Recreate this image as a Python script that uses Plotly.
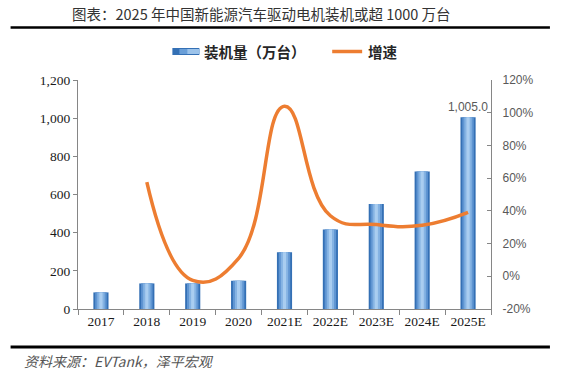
import plotly.graph_objects as go

# ---- data ----
years = ["2017", "2018", "2019", "2020", "2021E", "2022E", "2023E", "2024E", "2025E"]
installs = [87, 134, 134, 148, 298, 417, 550, 721, 1005.0]          # 万台
growth_years = ["2018", "2019", "2020", "2021E", "2022E", "2023E", "2024E", "2025E"]
growth = [57.5, -2.5, 11.0, 104.0, 37.0, 31.6, 31.2, 39.1]          # %

left_ticks = [0, 200, 400, 600, 800, 1000, 1200]
right_ticks = [-20, 0, 20, 40, 60, 80, 100, 120]

title_text = "图表：2025 年中国新能源汽车驱动电机装机或超 1000 万台"
source_text = "资料来源：EVTank，泽平宏观"
bar_name = "装机量（万台）"
line_name = "增速"

# ---- layout geometry (screen pixels; body margin removed via post_script) ----
W, H = 561, 378
PL, PR, PT, PB = 77.5, 491, 80, 309          # plot area in screen px
L = PL
T = PT
R = W - PR
B = H - PB
PW = PR - PL
PH = PB - PT


def px(x):
    return (x - PL) / PW


def py(y):
    return (PB - y) / PH


CJK = "Noto Sans CJK SC"
SERIF = "Liberation Serif"
SANS = "Liberation Sans"
BLUE_LAYERS = [(0.33, "#3470b5"), (0.25, "#5f95d2"), (0.16, "#85b3e3"), (0.07, "#a9cdf0")]
ORANGE = "#ed7d31"

fig = go.Figure()

labels = [f"{v:,.1f}" if i == len(installs) - 1 else "" for i, v in enumerate(installs)]
for k, (w, c) in enumerate(BLUE_LAYERS):
    fig.add_trace(go.Bar(
        x=years, y=installs, width=w, marker=dict(color=c, line=dict(width=0)),
        name=bar_name, showlegend=False, hoverinfo="skip" if k else None,
        text=labels if k == 0 else None, textposition="outside" if k == 0 else None,
        constraintext="none",
        textfont=dict(family=SANS, size=12, color="#595959"), cliponaxis=False,
    ))

fig.add_trace(go.Scatter(
    x=growth_years, y=growth, yaxis="y2", mode="lines", name=line_name,
    line=dict(color=ORANGE, width=3.5, shape="spline", smoothing=1.3),
    showlegend=False,
))

shapes = []
annotations = []

# title + rules
annotations.append(dict(text=title_text, x=px(261), y=py(13), xref="paper", yref="paper",
                        showarrow=False, xanchor="center", yanchor="middle",
                        font=dict(family=CJK, size=14.5, color="#333333")))
shapes.append(dict(type="line", xref="paper", yref="paper", x0=px(10), x1=px(550),
                   y0=py(27.5), y1=py(27.5), line=dict(color="#000000", width=2.5)))
shapes.append(dict(type="line", xref="paper", yref="paper", x0=px(10), x1=px(550),
                   y0=py(347), y1=py(347), line=dict(color="#000000", width=3)))
annotations.append(dict(text=source_text, x=px(21), y=py(361), xref="paper", yref="paper",
                        showarrow=False, xanchor="left", yanchor="middle",
                        font=dict(family=CJK, size=14, color="#555555", style="italic")))

# legend (manual)
lx0, lx1, ly0, ly1 = 172, 199, 48, 55
shapes.append(dict(type="rect", xref="paper", yref="paper", x0=px(lx0), x1=px(lx1),
                   y0=py(ly1), y1=py(ly0), line=dict(width=0), fillcolor="#3470b5"))
shapes.append(dict(type="rect", xref="paper", yref="paper", x0=px(lx0 + 7), x1=px(lx1),
                   y0=py(ly1 - 1), y1=py(ly0 + 1), line=dict(width=0), fillcolor="#6a9fd8"))
shapes.append(dict(type="rect", xref="paper", yref="paper", x0=px(lx0 + 15), x1=px(lx1),
                   y0=py(ly1 - 1), y1=py(ly0 + 1), line=dict(width=0), fillcolor="#9cc3ea"))
annotations.append(dict(text="<b>" + bar_name + "</b>", x=px(202), y=py(51.5), xref="paper",
                        yref="paper", showarrow=False, xanchor="left", yanchor="middle",
                        font=dict(family=CJK, size=14.5, color="#262626")))
shapes.append(dict(type="line", xref="paper", yref="paper", x0=px(332), x1=px(362),
                   y0=py(51.5), y1=py(51.5), line=dict(color=ORANGE, width=3.5)))
annotations.append(dict(text="<b>" + line_name + "</b>", x=px(366), y=py(51.5), xref="paper",
                        yref="paper", showarrow=False, xanchor="left", yanchor="middle",
                        font=dict(family=CJK, size=14.5, color="#262626")))

AXIS = "#868686"
fig.update_layout(
    width=W, height=H, margin=dict(l=L, r=R, t=T, b=B, pad=0),
    paper_bgcolor="white", plot_bgcolor="white",
    barmode="overlay", showlegend=False,
    shapes=shapes, annotations=annotations,
    xaxis=dict(type="category", categoryorder="array", categoryarray=years,
               showline=True, linecolor=AXIS, linewidth=1.2, showgrid=False,
               ticks="outside", ticklen=5, tickcolor=AXIS, tickson="boundaries",
               tickfont=dict(family=SERIF, size=13.5, color="#1a1a1a"), zeroline=False,
               range=[-0.5, 8.5]),
    yaxis=dict(range=[0, 1200], tickvals=left_ticks, tickformat=",d",
               showline=True, linecolor=AXIS, linewidth=1.2, showgrid=False,
               ticks="outside", ticklen=4, tickcolor=AXIS, zeroline=False,
               tickfont=dict(family=SERIF, size=13.5, color="#1a1a1a")),
    yaxis2=dict(range=[-20, 120], tickvals=right_ticks,
                ticktext=[f"{v}%" for v in right_ticks], overlaying="y",
                side="right", showline=True, linecolor=AXIS, linewidth=1.2, showgrid=False,
                ticks="inside", ticklen=4, tickcolor=AXIS, zeroline=False,
                ticklabelstandoff=8,
                tickfont=dict(family=SANS, size=12, color="#595959")),
)

fig.write_html("out.html", config={"displayModeBar": False},
               post_script="document.body.style.margin='0';document.body.style.padding='0';")
